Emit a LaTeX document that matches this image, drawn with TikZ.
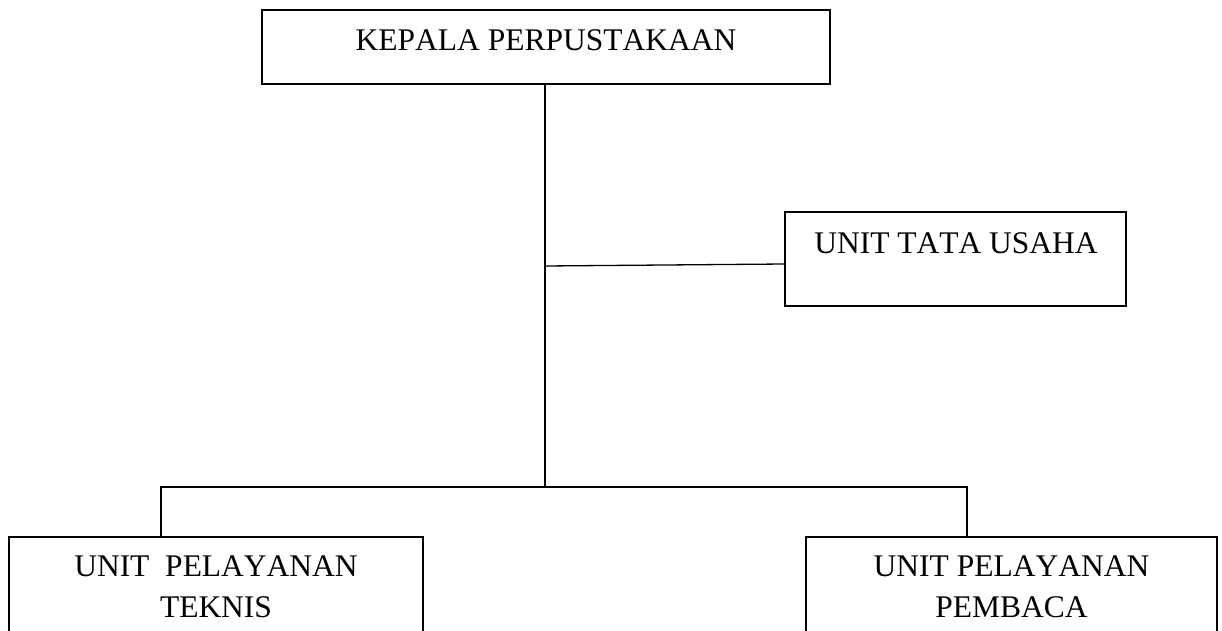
\documentclass[tikz,border=0pt]{standalone}
\usepackage{fontspec}
\setmainfont{Liberation Serif}[Kerning=Off]
\begin{document}
\begin{tikzpicture}[x=1pt,y=-1pt,
  box/.style={draw=black,line width=1.3pt,rectangle,inner sep=0pt},
  lbl/.style={inner sep=0pt,font=\fontsize{31.5pt}{41pt}\selectfont,align=center},
  conn/.style={draw=black,line width=1.3pt}]
\useasboundingbox (0,0) rectangle (1222,631);
\clip (0,0) rectangle (1222,631);
% boxes
\node[box,minimum width=568pt,minimum height=74pt] (top) at (546,47) {};
\node[box,minimum width=341pt,minimum height=94pt] (tata) at (955.5,259) {};
\node[box,minimum width=414pt,minimum height=133pt] (lbox) at (216,603.5) {};
\node[box,minimum width=411pt,minimum height=133pt] (rbox) at (1011.5,603.5) {};
% texts
\node[lbl,anchor=base] (topt) at (546,51) {KEPALA PERPUSTAKAAN};
\node[lbl,anchor=base] (tatat) at (956,253) {UNIT TATA USAHA};
\node[lbl,anchor=base] (lboxt) at (216,617) {UNIT\ \ PELAYANAN\\TEKNIS};
\node[lbl,anchor=base] (rboxt) at (1011.5,617) {UNIT PELAYANAN\\PEMBACA};
% junctions
\coordinate (j1) at (545,266);
\coordinate (j2) at (545,487);
\coordinate (bl) at (161,487);
\coordinate (br) at (967,487);
% connectors
\draw[conn] (top.south -| j2) -- (j2);
\draw[conn] (j1) -- ([yshift=-5pt]tata.west);
\draw[conn] (lbox.north -| bl) -- (bl) -- (br) -- (rbox.north -| br);
\end{tikzpicture}
\end{document}
